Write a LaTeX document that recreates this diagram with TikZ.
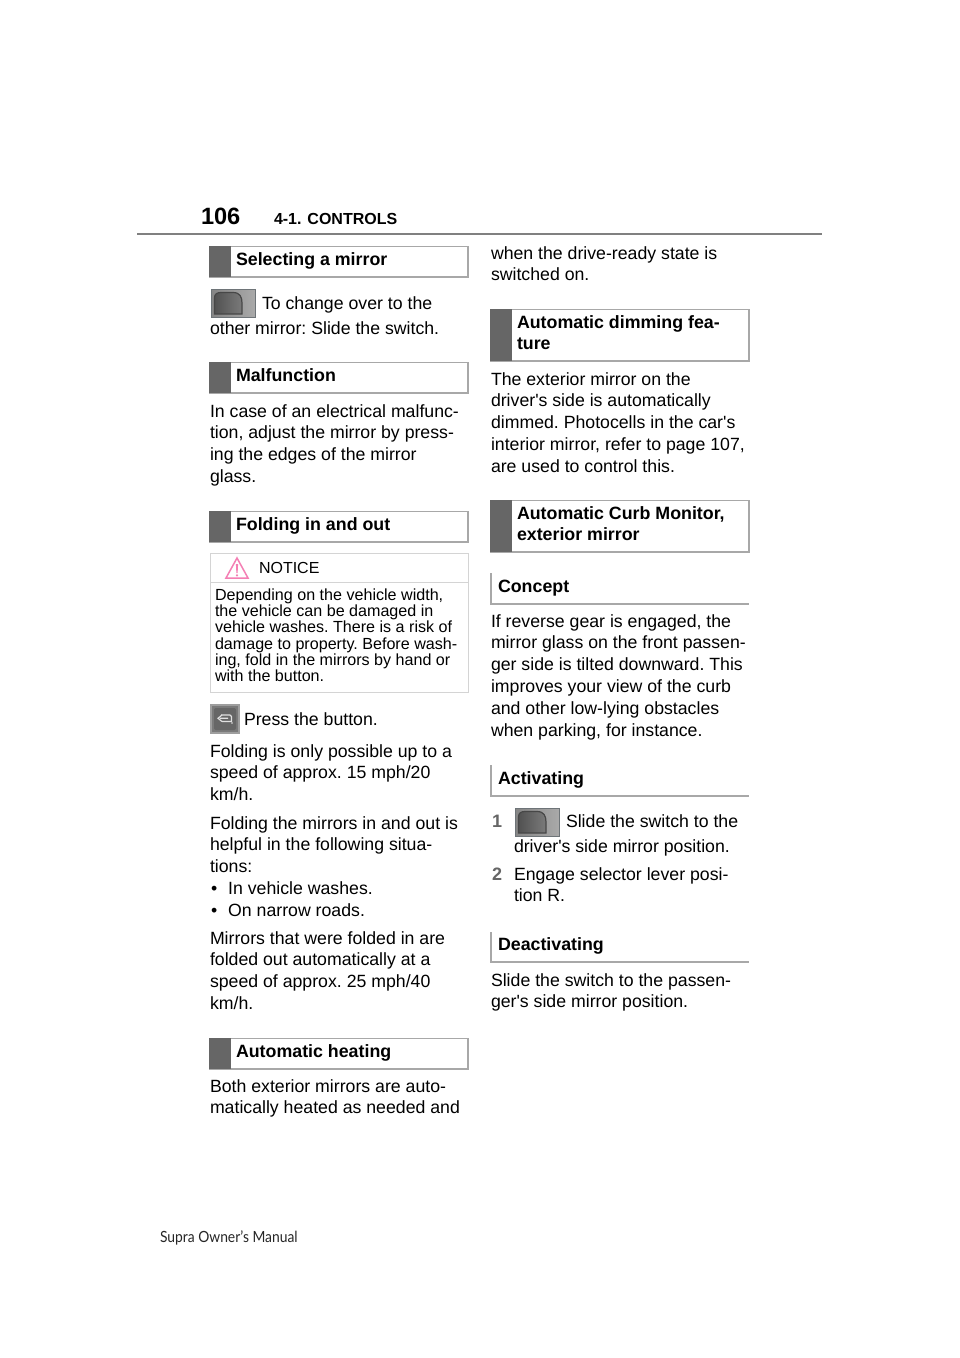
\documentclass[tikz,border=0pt]{standalone}
\usepackage{fontspec}
\setmainfont{Liberation Sans}
\newfontfamily\footfont[FakeStretch=0.9]{Lato}
\definecolor{headbar}{HTML}{666666}
\definecolor{headline}{HTML}{A8A8A8}
\definecolor{noticeline}{HTML}{D4D4D4}
\definecolor{rulegray}{HTML}{808080}
\definecolor{notepink}{HTML}{F47FB4}
\definecolor{iconbg}{HTML}{858585}
\definecolor{iconedge}{HTML}{6E7478}
\definecolor{numgray}{HTML}{666666}
\newcommand{\sq}{\textquotesingle}
\tikzset{
  txt/.style={inner sep=0pt,outer sep=0pt,anchor=north west,align=left,text=black},
  body/.style={txt,font=\frenchspacing\fontsize{17.7}{21.8}\selectfont},
  head/.style={txt,font=\frenchspacing\fontsize{17.8}{21}\selectfont\bfseries},
  small/.style={txt,font=\frenchspacing\fontsize{16.1}{16.2}\selectfont},
  framebox/.style={draw=headline,line width=1.1pt,fill=white,outer sep=0pt},
  barbox/.style={fill=headbar,draw=none,outer sep=0pt},
  openline/.style={draw=headline,line width=1.1pt},
}
% name, x, baseline y, text
\newcommand{\bodytext}[4]{\node[body] (#1) at (#2,{#3-14}) {\rule{0pt}{14pt}#4};}
\newcommand{\headtext}[4]{\node[head] (#1) at (#2,{#3-14}) {\rule{0pt}{14pt}#4};}
% name, x1, y1, x2, y2
\newcommand{\barhead}[5]{%
  \node[framebox,inner sep=0pt,anchor=north west,minimum width={#4-#2},minimum height={#5-#3}] (#1) at (#2,#3) {};
  \node[barbox,inner sep=0pt,anchor=north west,minimum width=22,minimum height={#5-#3+0.6}] (#1bar) at (#2-0.6,#3-0.3) {};}
% name, y1, y2
\newcommand{\openhead}[3]{%
  \coordinate (#1a) at (491,#2);\coordinate (#1b) at (491,#3);\coordinate (#1c) at (749,#3);
  \draw[openline] (#1a) -- (#1b) -- (#1c);}
% mirror switch icon: name, x, y (top-left)
\newcommand{\mirroricon}[3]{%
  \node[draw=iconedge,line width=1pt,left color=iconbg,right color=iconbg!70!white,outer sep=0pt,inner sep=0pt,anchor=north west,minimum width=44,minimum height=28] (#1) at (#2,#3) {};
  \begin{scope}[shift={(#2,#3)}]
    \path[left color=black!68,right color=black!52,draw=black!72,line width=1.2pt] (3.5,25) -- (3.5,9) .. controls (3.5,5) and (6,3.5) .. (10,3.5) -- (22,3.5) .. controls (29,3.5) and (31,8) .. (31,14) -- (31,25) -- cycle;
  \end{scope}}
\begin{document}
\begin{tikzpicture}[x=1pt,y=-1pt]
\useasboundingbox (0,0) rectangle (960,1358);
\fill[white] (0,0) rectangle (960,1358);

% page header
\node[txt,font=\fontsize{23.6}{25}\selectfont\bfseries,anchor=base west] (pageno) at (201,224) {106};
\node[txt,font=\fontsize{16}{18}\selectfont\bfseries,anchor=base west] (chapter) at (274,224) {4-1. CONTROLS};
\coordinate (ruleL) at (137,234);
\coordinate (ruleR) at (822,234);
\draw[rulegray,line width=2.2pt] (ruleL) -- (ruleR);

% left column
\barhead{h1}{209.5}{246.5}{468}{277}
\headtext{h1t}{236}{265}{Selecting a mirror}
\mirroricon{icA}{211}{289}
\bodytext{p1a}{262}{309}{To change over to the}
\bodytext{p1b}{210}{334}{other mirror: Slide the switch.}

\barhead{h2}{209.5}{362.5}{468}{393}
\headtext{h2t}{236}{381}{Malfunction}
\bodytext{p2}{210}{417}{In case of an electrical malfunc-\\tion, adjust the mirror by press-\\ing the edges of the mirror\\glass.}

\barhead{h3}{209.5}{511.5}{468}{542}
\headtext{h3t}{236}{530}{Folding in and out}

% notice
\node[draw=noticeline,line width=1pt,outer sep=0pt,inner sep=0pt,anchor=north west,minimum width=258,minimum height=139] (notice) at (210,553) {};
\coordinate (ndL) at (210,582);
\coordinate (ndR) at (468,582);
\draw[noticeline,line width=1pt] (ndL) -- (ndR);
\draw[notepink,line width=1.5pt,line join=miter] (237,558) -- (248,578) -- (226,578) -- cycle;
\fill[notepink] (235.9,564) -- (238.1,564) -- (237.6,573) -- (236.4,573) -- cycle;
\fill[notepink] (237,575.3) circle (1.2);
\node[txt,font=\fontsize{16}{18}\selectfont,anchor=base west] (noticehead) at (259,573) {NOTICE};
\node[small] (noticetext) at (215,588) {\rule{0pt}{12.5pt}Depending on the vehicle width,\\the vehicle can be damaged in\\vehicle washes. There is a risk of\\damage to property. Before wash-\\ing, fold in the mirrors by hand or\\with the button.};

% fold button icon
\node[draw=black!38,line width=1.2pt,fill=black!52,outer sep=0pt,inner sep=0pt,anchor=north west,minimum width=28,minimum height=28] (icB) at (211,705) {};
\begin{scope}[shift={(211,705)}]
  \fill[black!60,rounded corners=2pt] (3,3) rectangle (25,25);
  \draw[black!12,line width=1.2pt,line join=round] (10,10) -- (19,10) -- (20.5,11.5) -- (20.5,16.5) -- (11,16.5) (9,13.3) -- (17,13.3);
  \draw[black!12,line width=1.2pt] (11,10) -- (7,13.3) -- (11,16.5);
  \fill[black!12] (21,18) circle (0.9);
\end{scope}
\bodytext{p3}{244}{725}{Press the button.}
\bodytext{p4}{210}{757}{Folding is only possible up to a\\speed of approx. 15 mph/20\\km/h.}
\bodytext{p5}{210}{829}{Folding the mirrors in and out is\\helpful in the following situa-\\tions:\\\hspace*{1pt}•\hspace{11pt}In vehicle washes.\\\hspace*{1pt}•\hspace{11pt}On narrow roads.}
\bodytext{p6}{210}{944}{Mirrors that were folded in are\\folded out automatically at a\\speed of approx. 25 mph/40\\km/h.}

\barhead{h4}{209.5}{1038.5}{468}{1069}
\headtext{h4t}{236}{1057}{Automatic heating}
\bodytext{p7}{210}{1092}{Both exterior mirrors are auto-\\matically heated as needed and}

% right column
\bodytext{p8}{491}{259}{when the drive-ready state is\\switched on.}
\barhead{h5}{490.5}{309.5}{749}{361}
\headtext{h5t}{517}{328}{Automatic dimming fea-\\ture}
\bodytext{p9}{491}{385}{The exterior mirror on the\\driver\sq s side is automatically\\dimmed. Photocells in the car\sq s\\interior mirror, refer to page 107,\\are used to control this.}
\barhead{h6}{490.5}{500.5}{749}{552}
\headtext{h6t}{517}{519}{Automatic Curb Monitor,\\exterior mirror}
\openhead{o1}{573}{604}
\headtext{o1t}{498}{592}{Concept}
\bodytext{p10}{491}{627}{If reverse gear is engaged, the\\mirror glass on the front passen-\\ger side is tilted downward. This\\improves your view of the curb\\and other low-lying obstacles\\when parking, for instance.}
\openhead{o2}{765}{796}
\headtext{o2t}{498}{784}{Activating}
\node[txt,font=\fontsize{18}{21}\selectfont\bfseries,text=numgray,anchor=base west] (n1) at (492,827) {1};
\mirroricon{icC}{515}{808}
\bodytext{p11a}{566}{827}{Slide the switch to the}
\bodytext{p11b}{514}{852}{driver\sq s side mirror position.}
\node[txt,font=\fontsize{18}{21}\selectfont\bfseries,text=numgray,anchor=base west] (n2) at (492,880) {2};
\bodytext{p12}{514}{880}{Engage selector lever posi-\\tion R.}
\openhead{o3}{932}{962}
\headtext{o3t}{498}{950}{Deactivating}
\bodytext{p13}{491}{986}{Slide the switch to the passen-\\ger\sq s side mirror position.}

% footer
\node[txt,font=\fontsize{15.4}{18}\selectfont\footfont,text=black!85,anchor=base west] (foot) at (160,1242) {Supra Owner’s Manual};
\end{tikzpicture}
\end{document}
